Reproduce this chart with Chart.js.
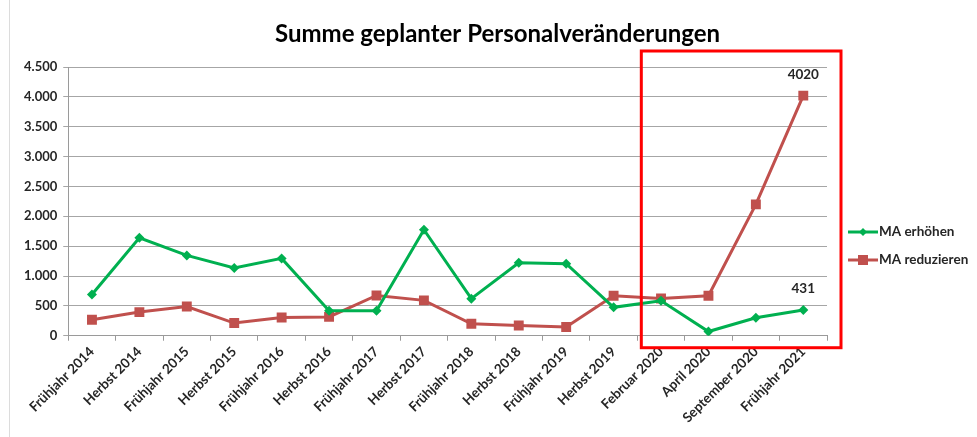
<!DOCTYPE html>
<html>
<head>
<meta charset="utf-8">
<script src="https://cdn.jsdelivr.net/npm/chart.js@4/dist/chart.umd.min.js"></script>
<style>
  html, body { margin: 0; padding: 0; background: #fff; overflow: hidden; }
  canvas { display: block; }
</style>
</head>
<body>
<canvas id="chart" width="977" height="437"></canvas>
<script>
// chart data
const periods = ['Frühjahr 2014', 'Herbst 2014', 'Frühjahr 2015', 'Herbst 2015', 'Frühjahr 2016', 'Herbst 2016',
    'Frühjahr 2017', 'Herbst 2017', 'Frühjahr 2018', 'Herbst 2018', 'Frühjahr 2019', 'Herbst 2019',
    'Februar 2020', 'April 2020', 'September 2020', 'Frühjahr 2021'];
const erhoehen = [690, 1640, 1345, 1135, 1295, 420, 420, 1775, 620, 1220, 1205, 475, 585, 70, 300, 431];
const reduzieren = [268, 396, 490, 212, 306, 315, 674, 592, 200, 172, 145, 669, 624, 669, 2200, 4020];
const yTicks = [0, 500, 1000, 1500, 2000, 2500, 3000, 3500, 4000, 4500];

const GREEN = '#00b050';
const RED = '#c0504d';
const TEXT = '#262626';
const FONT = 'Lato, "Open Sans", sans-serif';
const TITLE = 'Summe geplanter Personalveränderungen';

function fmt(v) {
    return String(v).replace(/\B(?=(\d{3})+(?!\d))/g, '.');
}

// title centred over the whole picture (the legend takes room on the right)
const titleDraw = {
    id: 'titleDraw',
    afterDraw(chart) {
        const ctx = chart.ctx;
        ctx.save();
        ctx.font = 'bold 24px ' + FONT;
        ctx.fillStyle = '#000';
        ctx.textAlign = 'center';
        ctx.textBaseline = 'middle';
        ctx.fillText(TITLE, chart.width / 2 + 9, 34);
        ctx.restore();
    }
};

// legend: line with marker, text to the right
const legendDraw = {
    id: 'legendDraw',
    afterDraw(chart) {
        const ctx = chart.ctx;
        const x0 = chart.chartArea.right + 21;
        const midY = (55 + chart.height) / 2;
        ctx.save();
        ctx.font = 'bold 13.5px ' + FONT;
        ctx.textBaseline = 'middle';
        ctx.textAlign = 'left';
        chart.data.datasets.forEach((ds, i) => {
            const y = midY - 14 + i * 28;
            ctx.strokeStyle = ds.borderColor;
            ctx.fillStyle = ds.borderColor;
            ctx.lineWidth = 3;
            ctx.beginPath();
            ctx.moveTo(x0, y);
            ctx.lineTo(x0 + 30, y);
            ctx.stroke();
            if (ds.pointStyle === 'rectRot') {
                ctx.beginPath();
                ctx.moveTo(x0 + 15, y - 4);
                ctx.lineTo(x0 + 19, y);
                ctx.lineTo(x0 + 15, y + 4);
                ctx.lineTo(x0 + 11, y);
                ctx.closePath();
                ctx.fill();
            } else {
                ctx.fillRect(x0 + 10, y - 5, 10, 10);
            }
            ctx.fillStyle = TEXT;
            ctx.fillText(ds.label, x0 + 31, y);
        });
        ctx.restore();
    }
};

// value label over the last point of each series
const lastLabels = {
    id: 'lastLabels',
    afterDatasetsDraw(chart) {
        const ctx = chart.ctx;
        ctx.save();
        ctx.font = 'bold 13.5px ' + FONT;
        ctx.fillStyle = TEXT;
        ctx.textAlign = 'center';
        ctx.textBaseline = 'middle';
        chart.data.datasets.forEach((ds, i) => {
            const meta = chart.getDatasetMeta(i);
            const last = meta.data[meta.data.length - 1];
            ctx.fillText(String(ds.data[ds.data.length - 1]), last.x, last.y - 21);
        });
        ctx.restore();
    }
};

// red highlight frame around the 2020/2021 section
const highlightBox = {
    id: 'highlightBox',
    afterDraw(chart) {
        const x = chart.scales.x;
        const area = chart.chartArea;
        const left = (x.getPixelForValue(11) + x.getPixelForValue(12)) / 2 + 4;
        const ctx = chart.ctx;
        ctx.save();
        ctx.strokeStyle = '#ff0000';
        ctx.lineWidth = 3;
        ctx.strokeRect(left, area.top - 16, area.right + 14 - left, area.bottom - area.top + 28);
        // faint outer frame line on the left
        ctx.strokeStyle = '#dcdcdc';
        ctx.lineWidth = 1;
        ctx.beginPath();
        ctx.moveTo(9.5, 0);
        ctx.lineTo(9.5, chart.height);
        ctx.stroke();
        ctx.restore();
    }
};

const ctx = document.getElementById('chart').getContext('2d');
const chart = new Chart(ctx, {
    type: 'line',
    data: {
        labels: periods,
        datasets: [{
            label: 'MA erhöhen',
            data: erhoehen,
            borderColor: GREEN,
            backgroundColor: GREEN,
            borderWidth: 3,
            pointStyle: 'rectRot',
            pointRadius: 5,
            pointHoverRadius: 5,
            pointBorderWidth: 0,
            tension: 0
        }, {
            label: 'MA reduzieren',
            data: reduzieren,
            borderColor: RED,
            backgroundColor: RED,
            borderWidth: 3,
            pointStyle: 'rect',
            pointRadius: 7,
            pointHoverRadius: 7,
            pointBorderWidth: 0,
            tension: 0
        }]
    },
    options: {
        responsive: false,
        animation: false,
        maintainAspectRatio: false,
        layout: {
            padding: { left: 18, right: 150, top: 67, bottom: 8 }
        },
        plugins: {
            title: { display: false },
            legend: { display: false },
            tooltip: { enabled: false }
        },
        scales: {
            x: {
                offset: true,
                grid: {
                    offset: true,
                    drawOnChartArea: false,
                    drawTicks: true,
                    tickLength: 5,
                    color: '#9a9a9a'
                },
                border: { color: '#9a9a9a', width: 1 },
                ticks: {
                    minRotation: 45,
                    maxRotation: 45,
                    autoSkip: false,
                    color: TEXT,
                    font: { family: FONT, size: 13.5, weight: 'bold' }
                }
            },
            y: {
                min: 0,
                max: 4500,
                afterBuildTicks(scale) {
                    scale.ticks = yTicks.map(v => ({ value: v }));
                },
                grid: {
                    color: '#a6a6a6',
                    tickLength: 5
                },
                border: { color: '#9a9a9a', width: 1 },
                ticks: {
                    padding: 6,
                    color: TEXT,
                    font: { family: FONT, size: 13, weight: 'bold' },
                    callback: v => fmt(v)
                }
            }
        }
    },
    plugins: [lastLabels, highlightBox, titleDraw, legendDraw]
});
</script>
</body>
</html>
